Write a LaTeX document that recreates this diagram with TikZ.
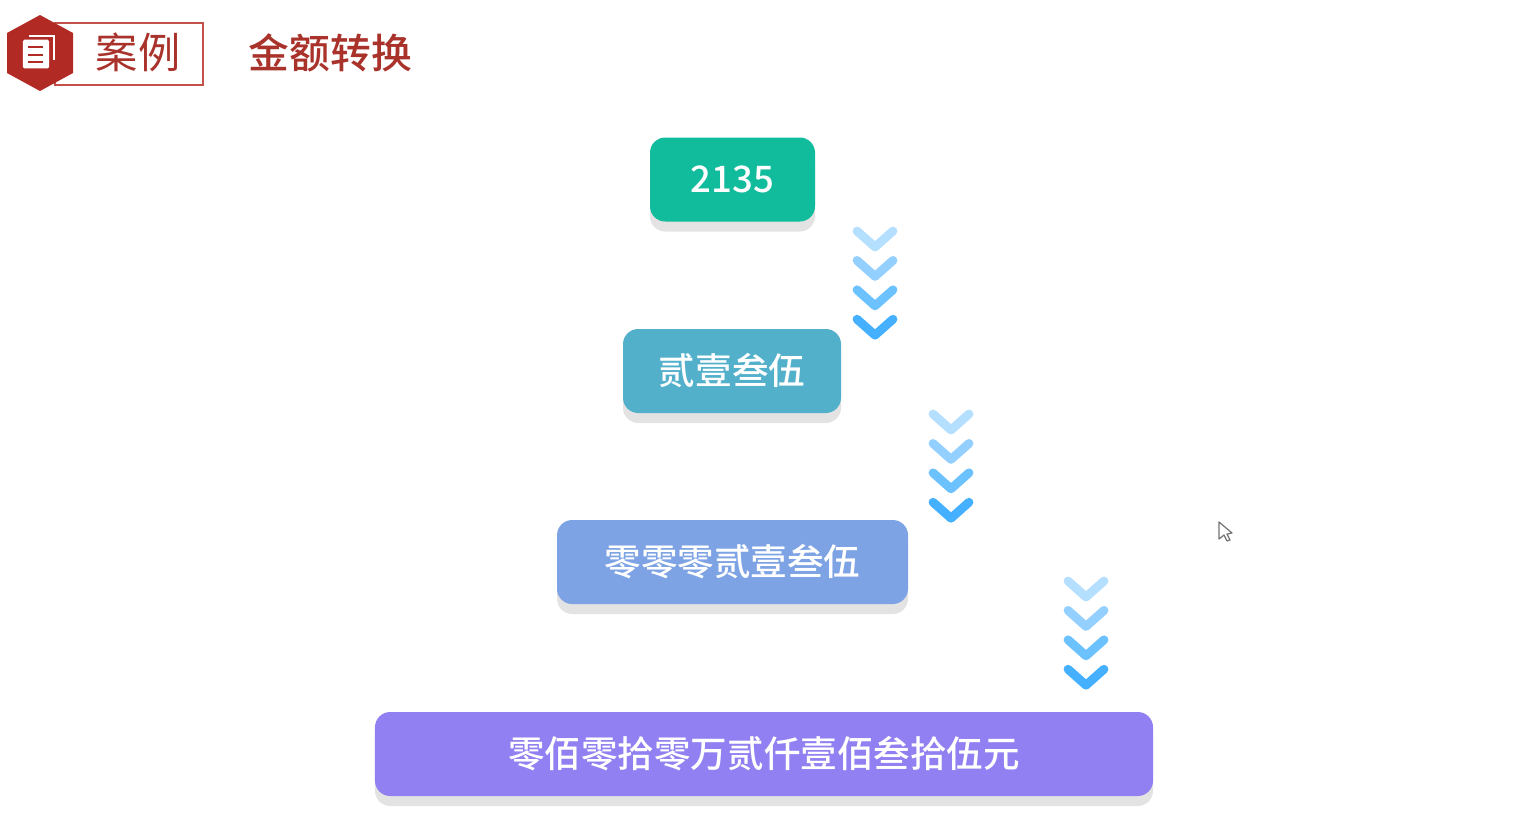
\documentclass[tikz,border=0pt]{standalone}
\usepackage{fontspec}
\setmainfont{Noto Sans CJK SC}
\newfontfamily\medcjk{Noto Sans CJK SC Medium}
\usepackage{xcolor}
\definecolor{brickred}{HTML}{B22A24}
\definecolor{titlered}{HTML}{A9322B}
\definecolor{framered}{HTML}{C2514C}
\definecolor{teal}{HTML}{10BC9C}
\definecolor{lake}{HTML}{53B0CB}
\definecolor{periw}{HTML}{7EA3E4}
\definecolor{violetb}{HTML}{9180F1}
\definecolor{chevA}{HTML}{B5DFFF}
\definecolor{chevB}{HTML}{94D0FF}
\definecolor{chevC}{HTML}{6CC1FF}
\definecolor{chevD}{HTML}{45B0FF}
\usepackage{tikz}
\usetikzlibrary{positioning,shadows}

\begin{document}
\begin{tikzpicture}[x=0.25mm,y=-0.25mm,
  amt/.style={rounded corners=3.8mm,minimum height=21mm,inner sep=0pt,text=white,font=\medcjk\fontsize{26}{30}\selectfont,
    general shadow={fill=black!11,shadow yshift=-2.5mm}},
  chev/.style={line width=2.2mm,line cap=round,line join=round}]
  \useasboundingbox (0,0) rectangle (1521,828);
  % header
  \node[draw=framered,line width=0.4mm,minimum width=37mm,minimum height=15.5mm,inner sep=0pt] (frame) at (129,54) {};
  \fill[brickred] (40,15) -- (73,33) -- (73,73) -- (40,91) -- (7,73) -- (7,33) -- cycle;
  \draw[white,line width=0.5mm] (29,36) -- (54,36) -- (54,60);
  \node[fill=white,rounded corners=0.4mm,minimum width=6.6mm,minimum height=7.2mm,inner sep=0pt] (page) at (36,54) {};
  \foreach \ly in {47,54.5,62} \draw[brickred,line width=0.5mm] (28,\ly) -- (43,\ly);
  \node[text=titlered,font=\fontsize{30}{34}\selectfont,inner sep=0pt] (tag) at (138,52.5) {案例};
  \node[text=titlered,font=\medcjk\fontsize{29}{34}\selectfont,inner sep=0pt] (title) at (330.5,53) {金额转换};
  % amounts
  \node[amt,fill=teal,minimum width=41.25mm] (num) at (732.5,179.5) {2135};
  \node[amt,fill=lake,minimum width=54.5mm] (upper) at (732,371) {贰壹叁伍};
  \node[amt,fill=periw,minimum width=87.75mm] (padded) at (732.5,562) {零零零贰壹叁伍};
  \node[amt,fill=violetb,minimum width=194.5mm] (result) at (764,754) {零佰零拾零万贰仟壹佰叁拾伍元};
  % chevrons
  \foreach \cx/\cy in {875/231,951/414,1086/581}
    \foreach \i/\col in {0/chevA,1/chevB,2/chevC,3/chevD}
      \draw[chev,\col] (\cx-18,\cy+\i*29.4) -- ++(18,16) -- ++(18,-16);
  % cursor
  \draw[black!55,fill=white,line width=0.3mm,line join=round] (1219,522) -- (1219,539) -- (1224,535) -- (1227,541) -- (1230,540) -- (1227,534) -- (1232,533) -- cycle;
\end{tikzpicture}
\end{document}
